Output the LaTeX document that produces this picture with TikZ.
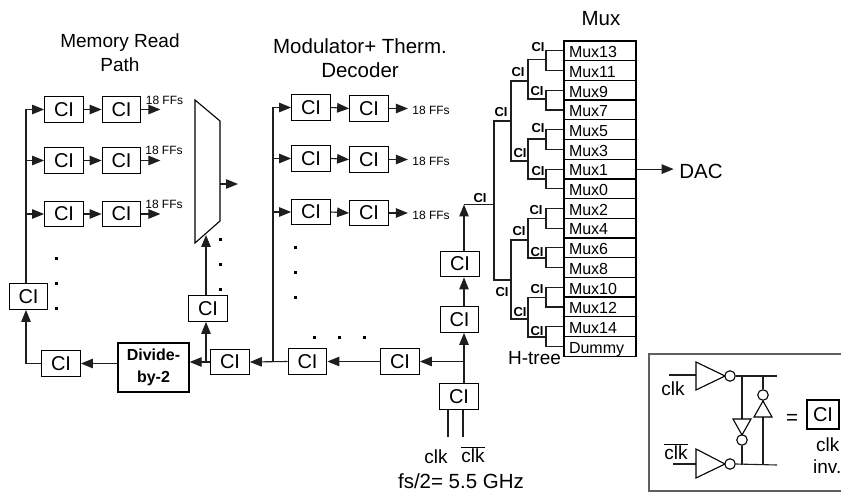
\documentclass[tikz,border=0pt]{standalone}
\usepackage{fontspec}
\setmainfont{Liberation Sans}
\usetikzlibrary{arrows.meta}
\definecolor{wire}{RGB}{30,30,30}
\definecolor{framec}{RGB}{95,95,95}
\tikzset{
  cibox/.style={draw=black,line width=1.3pt,minimum width=38.5pt,minimum height=25.5pt,inner sep=0pt,font=\fontsize{20}{22}\selectfont},
  divbox/.style={draw=black,line width=1.3pt,minimum width=71pt,minimum height=49pt,inner sep=0pt,align=center,font=\fontsize{16}{22}\selectfont\bfseries},
  muxc/.style={draw=black,line width=1.3pt,minimum width=72pt,minimum height=19.7pt,inner sep=0pt,inner xsep=5pt,text width=62pt,text height=13.5pt,text depth=0pt,align=left,font=\fontsize{16}{16}\selectfont},
  cilab/.style={inner sep=0pt,font=\fontsize{13}{13}\selectfont\bfseries},
  ffs/.style={inner sep=0pt,font=\fontsize{12}{12}\selectfont},
  txt/.style={inner sep=0pt,align=center,font=\fontsize{19}{24}\selectfont},
  txtb/.style={inner sep=0pt,align=center,font=\fontsize{20.5}{24}\selectfont},
  dotm/.style={fill=black,minimum size=3pt,inner sep=0pt},
  bub/.style={circle,draw=black,fill=white,line width=1.1pt,minimum size=10.5pt,inner sep=0pt},
  leg/.style={wire,line width=1.1pt},
  sig/.style={wire,line width=1.1pt,-{Triangle[length=12pt,width=9.5pt]}},
  gate/.style={draw=black,line width=1.1pt,fill=white,line join=miter}
}
\begin{document}
\begin{tikzpicture}[x=1pt,y=-1pt]
    \useasboundingbox (0,0) rectangle (841,494);
    \coordinate (busM) at (26,0);
    \coordinate (busD) at (273,0);
    \coordinate (busE) at (206,0);
    \coordinate (busC) at (464,0);
    \coordinate (clkA) at (448,437);
    \coordinate (clkB) at (463,437);
    \node[txt] (tMem) at (120,53) {Memory Read\\Path};
    \node[txtb] (tMod) at (360,58) {Modulator+ Therm.\\Decoder};
    \node[txtb] (tMux) at (601,19) {Mux};
    \node[cibox] (a1) at (64,109.5) {CI};
    \node[cibox] (a2) at (64,160.5) {CI};
    \node[cibox] (a3) at (64,214) {CI};
    \node[cibox] (a1b) at (121.5,109.5) {CI};
    \node[cibox] (a2b) at (121.5,160.5) {CI};
    \node[cibox] (a3b) at (121.5,214) {CI};
    \node[ffs] (fa1) at (164.5,100) {18 FFs};
    \node[ffs] (fa2) at (164,150) {18 FFs};
    \node[ffs] (fa3) at (164,204) {18 FFs};
    \node[cibox] (b1) at (311,107.5) {CI};
    \node[cibox] (b2) at (311,158.5) {CI};
    \node[cibox] (b3) at (311,212) {CI};
    \node[cibox] (b1b) at (369,108.5) {CI};
    \node[cibox] (b2b) at (369,159.5) {CI};
    \node[cibox] (b3b) at (369,213) {CI};
    \node[ffs] (fb1) at (431,110) {18 FFs};
    \node[ffs] (fb2) at (431,161) {18 FFs};
    \node[ffs] (fb3) at (431,215) {18 FFs};
    \node[cibox] (cL) at (28.5,296.5) {CI};
    \node[cibox] (cD) at (61,363.5) {CI};
    \node[divbox] (div) at (153.5,367.5) {Divide-\\by-2};
    \node[cibox] (cM) at (208,308.5) {CI};
    \node[cibox] (cP) at (230,362) {CI};
    \node[cibox] (cQ) at (307.5,361.5) {CI};
    \node[cibox] (cR) at (400,361.5) {CI};
    \node[cibox] (cIn) at (459,396.5) {CI};
    \node[cibox] (c2) at (459.5,319.5) {CI};
    \node[cibox] (c3) at (460,264) {CI};
    \node[txt] (tClk) at (436,457) {clk};
    \node[txt] (tClkb) at (473,455) {$\overline{\mbox{clk}}$};
    \node[txtb] (tFs) at (461,481) {fs/2= 5.5 GHz};
    \node[dotm] (da1) at (56.5,259) {};
    \node[dotm] (da2) at (56.5,284) {};
    \node[dotm] (da3) at (56.5,309) {};
    \node[dotm] (db1) at (220,240) {};
    \node[dotm] (db2) at (220,265) {};
    \node[dotm] (db3) at (220,290) {};
    \node[dotm] (dc1) at (295,248) {};
    \node[dotm] (dc2) at (295,273) {};
    \node[dotm] (dc3) at (295,298) {};
    \node[dotm] (dd1) at (314,338) {};
    \node[dotm] (dd2) at (339,338) {};
    \node[dotm] (dd3) at (364,338) {};
    \draw[sig] (cL.north -| busM) |- (a1.west);
    \draw[sig] (a2.west -| busM) -- (a2.west);
    \draw[sig] (a3.west -| busM) -- (a3.west);
    \draw[sig] (a1.east) -- (a1b.west);
    \draw[sig] (a2.east) -- (a2b.west);
    \draw[sig] (a3.east) -- (a3b.west);
    \draw[sig] (a1b.east) -- ++(19,0);
    \draw[sig] (a2b.east) -- ++(19,0);
    \draw[sig] (a3b.east) -- ++(19,0);
    \draw[sig] (busD |- cP.east) |- (b1.west);
    \draw[sig] (b2.west -| busD) -- (b2.west);
    \draw[sig] (b3.west -| busD) -- (b3.west);
    \draw[sig] (b1.east) -- (b1b.west);
    \draw[sig] (b2.east) -- (b2b.west);
    \draw[sig] (b3.east) -- (b3b.west);
    \draw[sig] (b1b.east) -- ++(19,0);
    \draw[sig] (b2b.east) -- ++(19,0);
    \draw[sig] (b3b.east) -- ++(19,0);
    \draw[gate] (195,100) coordinate (mA) -- (220,121) coordinate (mB) -- (220,221) coordinate (mC) -- (195,243) coordinate (mD) -- cycle;
    \coordinate (muxOut) at (220,184);
    \coordinate (muxIn) at (206,235);
    \draw[sig] (muxOut) -- ++(18,0);
    \draw[sig] (cM.north -| busE) -- (muxIn);
    \draw[sig] (cP.west -| busE) -- (cM.south -| busE);
    \draw[sig] (cP.west) -- (cP.west -| div.east);
    \draw[sig] (cD.east -| div.west) -- (cD.east);
    \draw[sig] (cD.west) -| (cL.south -| busM);
    \draw[sig] (cQ.west) -- (cP.east);
    \draw[sig] (cR.west) -- (cQ.east);
    \draw[sig] (busC |- cR.east) -- (cR.east);
    \draw[sig] (cIn.north -| busC) -- (c2.south -| busC);
    \draw[sig] (c2.north -| busC) -- (c3.south -| busC);
    \coordinate (rootIn) at (464,204.5);
    \draw[sig] (c3.north -| busC) -- (rootIn);
    \draw[leg] (clkA |- cIn.south) -- (clkA);
    \draw[leg] (clkB |- cIn.south) -- (clkB);
    \node[muxc] (m13) at (600,50.9) {Mux13};
    \node[muxc] (m11) at (600,70.6) {Mux11};
    \node[muxc] (m9) at (600,90.3) {Mux9};
    \node[muxc] (m7) at (600,110) {Mux7};
    \node[muxc] (m5) at (600,129.7) {Mux5};
    \node[muxc] (m3) at (600,149.4) {Mux3};
    \node[muxc] (m1) at (600,169.1) {Mux1};
    \node[muxc] (m0) at (600,188.8) {Mux0};
    \node[muxc] (m2) at (600,208.5) {Mux2};
    \node[muxc] (m4) at (600,228.2) {Mux4};
    \node[muxc] (m6) at (600,247.9) {Mux6};
    \node[muxc] (m8) at (600,267.6) {Mux8};
    \node[muxc] (m10) at (600,287.3) {Mux10};
    \node[muxc] (m12) at (600,307) {Mux12};
    \node[muxc] (m14) at (600,326.7) {Mux14};
    \node[muxc] (mD) at (600,346.4) {Dummy};
    \node[txt] (tTree) at (534.5,358) {H-tree};
    \node[txtb] (tDac) at (701,171) {DAC};
    \draw[sig] (m1.east) -- ++(37,0);
    \coordinate (ja) at (546,59.5);
    \coordinate (jb) at (546,99);
    \coordinate (jc) at (546,139);
    \coordinate (jd) at (546,179);
    \coordinate (je) at (546,218.5);
    \coordinate (jf) at (546,258);
    \coordinate (jg) at (546,297.5);
    \coordinate (jh) at (546,337);
    \coordinate (ka) at (528,81);
    \coordinate (kb) at (528,161);
    \coordinate (kc) at (528,240);
    \coordinate (kd) at (528,319);
    \coordinate (la) at (511,121);
    \coordinate (lb) at (511,280);
    \coordinate (root) at (494,204.5);
    \draw[leg] (m13.west) -| (ja) |- (m11.west);
    \draw[leg] (m9.west) -| (jb) |- (m7.west);
    \draw[leg] (m5.west) -| (jc) |- (m3.west);
    \draw[leg] (m1.west) -| (jd) |- (m0.west);
    \draw[leg] (m2.west) -| (je) |- (m4.west);
    \draw[leg] (m6.west) -| (jf) |- (m8.west);
    \draw[leg] (m10.west) -| (jg) |- (m12.west);
    \draw[leg] (m14.west) -| (jh) |- (mD.west);
    \draw[leg] (ja) -| (ka) |- (jb);
    \draw[leg] (jc) -| (kb) |- (jd);
    \draw[leg] (je) -| (kc) |- (jf);
    \draw[leg] (jg) -| (kd) |- (jh);
    \draw[leg] (ka) -| (la) |- (kb);
    \draw[leg] (kc) -| (lb) |- (kd);
    \draw[leg] (la) -| (root) |- (lb);
    \draw[leg] (rootIn) -- (root);
    \node[cilab] (l1) at (538,47) {CI};
    \node[cilab] (l2) at (518,72) {CI};
    \node[cilab] (l3) at (537,91) {CI};
    \node[cilab] (l4) at (501,112) {CI};
    \node[cilab] (l5) at (538,128) {CI};
    \node[cilab] (l6) at (520,153) {CI};
    \node[cilab] (l7) at (538,171) {CI};
    \node[cilab] (l8) at (536,210) {CI};
    \node[cilab] (l9) at (519,231) {CI};
    \node[cilab] (l10) at (537,252) {CI};
    \node[cilab] (l11) at (502,292) {CI};
    \node[cilab] (l12) at (537,289) {CI};
    \node[cilab] (l13) at (520,312) {CI};
    \node[cilab] (l14) at (537,331) {CI};
    \node[cilab] (l15) at (480,198) {CI};
    \draw[framec,line width=1.1pt] (841,354) -- (649,354) -- (649,491) -- (841,491);
    \coordinate (inA) at (669,375);
    \coordinate (inB) at (673,464);
    \coordinate (outA) at (777,376);
    \coordinate (outB) at (777,465);
    \node[bub] (buA) at (730,376) {};
    \node[bub] (buB) at (730,464) {};
    \draw[leg] (inA) -- (696,375);
    \draw[leg] (inB) -- (696,464);
    \draw[leg] (buA.east) -- (outA);
    \draw[leg] (buB.east) -- (outB);
    \draw[gate] (696,362) -- (725,376) -- (696,390) -- cycle;
    \draw[gate] (696,449) -- (725,464) -- (696,478) -- cycle;
    \node[bub] (buC) at (742,440) {};
    \node[bub] (buD) at (763,395) {};
    \draw[leg] (742,376) -- (742,419);
    \draw[leg] (buC.south) -- (742,465);
    \draw[leg] (763,376) -- (buD.north);
    \draw[leg] (763,417) -- (763,465);
    \draw[gate] (733,419) -- (751,419) -- (742,435) -- cycle;
    \draw[gate] (754,417) -- (772,417) -- (763,401) -- cycle;
    \node[txt] (tClkA) at (673,389) {clk};
    \node[txt] (tClkB) at (676,452) {$\overline{\mbox{clk}}$};
    \node[txtb] (tEq) at (792,419) {=};
    \node[cibox,minimum width=32pt,minimum height=29pt] (cKey) at (823,414.5) {CI};
    \node[txt,anchor=west] (tKa) at (816,445) {clk};
    \node[txt,anchor=west] (tKb) at (813,467) {inv.};
\end{tikzpicture}
\end{document}
